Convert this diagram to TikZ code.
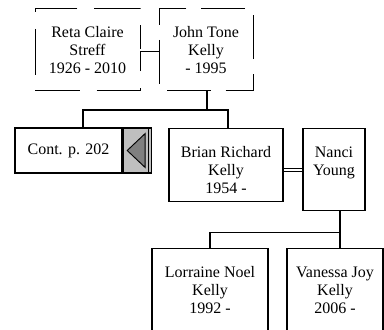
\documentclass[tikz,border=0pt]{standalone}
\usepackage{fontspec}
\setmainfont{Liberation Serif}
\usetikzlibrary{positioning,calc}

\tikzset{
  person/.style={draw, line width=0.9pt, align=center, inner sep=0pt, anchor=north,
    text height=48.75pt, font=\fontsize{12}{13.5}\selectfont},
  pair/.style={person, text height=35.25pt},
  ghost/.style={person, line width=0.7pt, dash pattern=on 34.5pt off 12.5pt, dash phase=0.75pt},
  link/.style={line width=1pt},
  marr/.style={double, double distance=1.5pt, line width=0.7pt},
}

\begin{document}
\begin{tikzpicture}[x=0.75pt,y=-0.75pt]
    \useasboundingbox (0,0) rectangle (384,329);
    \clip (0,0) rectangle (384,329);

    % Parents
    \node[ghost, minimum width=78.75pt, text depth=12.75pt] (reta) at (87.5,8) {Reta Claire\\Streff\\1926 - 2010};
    \node[ghost, dash pattern=on 33pt off 11pt, dash phase=38pt, minimum width=70.5pt, text depth=12.75pt]
        (john) at (206,8) {John Tone\\Kelly\\- 1995};
    \draw[marr] ($(reta.east)+(0,1)$) -- ($(john.west)+(0,1)$);

    % Children
    \node[draw, line width=0.9pt, minimum width=80.25pt, minimum height=33.75pt,
          font=\fontsize{12}{13.5}\selectfont] (cont) at (68.5,150.5) {Cont. p. 202};
    \node[draw, line width=0.9pt, fill=black!25, inner sep=0pt, minimum width=21pt,
          minimum height=33.75pt, anchor=west] (contarrow) at (cont.east) {};
    \draw[line width=0.9pt] ($(contarrow.north east)+(-3,0)$) -- ($(contarrow.south east)+(-3,0)$);
    \filldraw[fill=black!50, line width=0.7pt] ($(contarrow.center)+(-10,0)$) -- ($(contarrow.center)+(8,-17)$)
        -- ($(contarrow.center)+(8,17)$) -- cycle;

    \node[person, minimum width=85.5pt, text depth=6pt] (brian) at (226,128) {Brian Richard\\Kelly\\1954 -};
    \node[pair, minimum width=46.5pt, text depth=26.25pt] (nanci) at (334,128) {Nanci\\Young};
    \draw[marr] (nanci.west) -- (nanci.west -| brian.east);

    \coordinate (jk) at ($(john.south)+(1,19)$);
    \coordinate (contmid) at ($(cont.north west)!0.5!(contarrow.north east)$);
    \draw[link] (john.south -| jk) -- (jk);
    \draw[link] (contmid) |- (jk) -| ($(brian.north)+(2,0)$);

    % Grandchildren
    \node[person, minimum width=87pt, text depth=15.75pt] (lorraine) at (210,248) {Lorraine Noel\\Kelly\\1992 -};
    \node[person, minimum width=72pt, text depth=15.75pt] (vanessa) at (335,248) {Vanessa Joy\\Kelly\\2006 -};

    \coordinate (nk) at ($(nanci.south)+(6,21)$);
    \draw[link] (nanci.south -| nk) -- (nk) -- (nk |- vanessa.north);
    \draw[link] (nk) -| (lorraine.north);
\end{tikzpicture}
\end{document}
